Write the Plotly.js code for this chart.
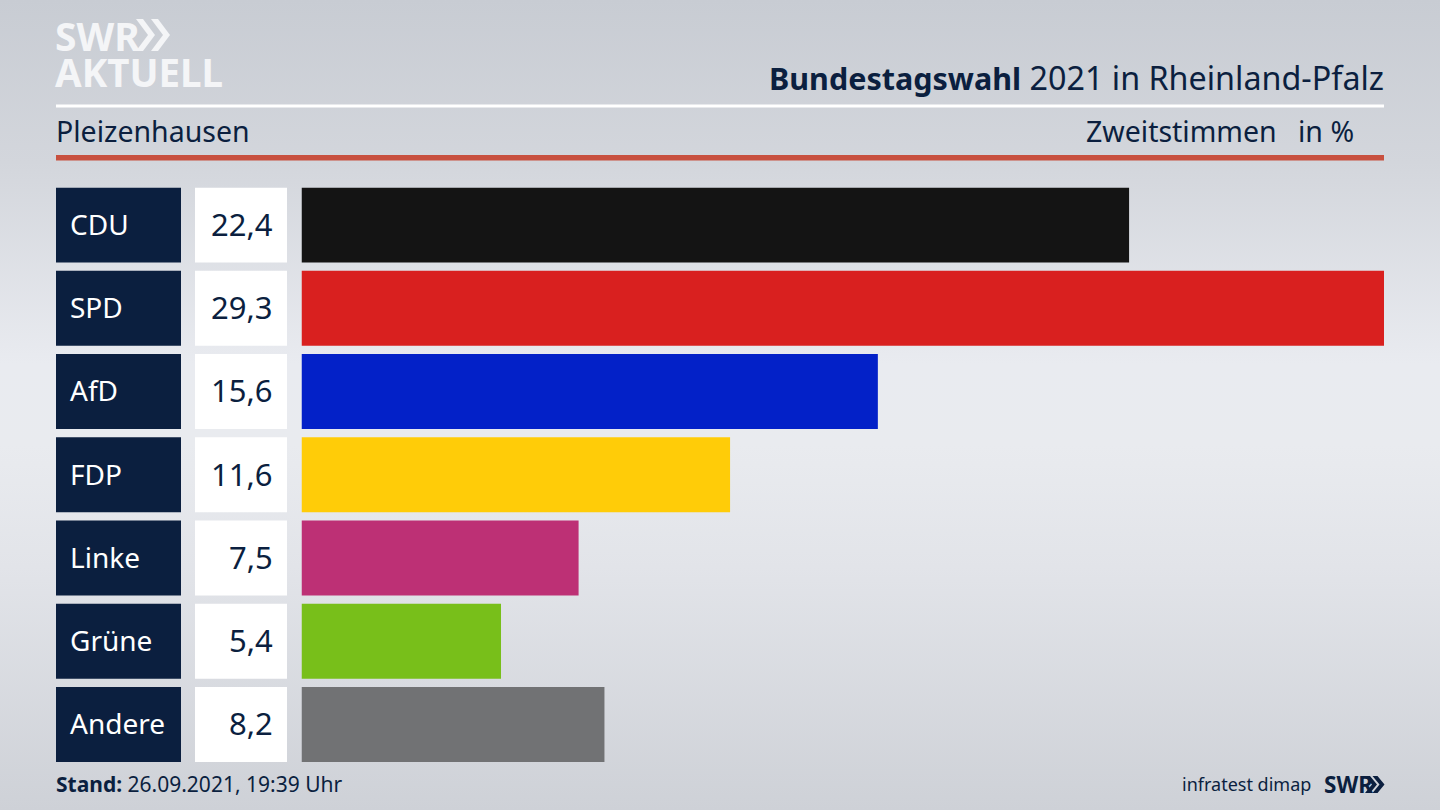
<!DOCTYPE html>
<html><head><meta charset="utf-8">
<script src="https://cdn.plot.ly/plotly-3.0.1.min.js"></script>
<style>
html,body{margin:0;padding:0;width:1440px;height:810px;overflow:hidden;
background:linear-gradient(180deg,#c8ccd3 0%,#d3d6dc 20%,#e9ebf0 45%,#e9ebef 55%,#e2e4e9 70%,#ced1d7 100%);}
#c{width:1440px;height:810px}
</style></head><body><div id="c"></div>
<script>
const parties=["CDU","SPD","AfD","FDP","Linke","Grüne","Andere"];
const shares=[22.4,29.3,15.6,11.6,7.5,5.4,8.2];
const shareLabels=["22,4","29,3","15,6","11,6","7,5","5,4","8,2"];
const partyColors=["#141414","#d9201f","#0321c8","#ffcc08","#bd3075","#78bf1a","#717274"];
const title1="Bundestagswahl", title2=" 2021 in Rheinland-Pfalz";
const place="Pleizenhausen", kind="Zweitstimmen", unit="in %";
const stand="Stand:", standText=" 26.09.2021, 19:39 Uhr", source="infratest dimap";

const W=1440,H=810,NAVY="#0b1f3f",FONT='"Noto Sans","Open Sans",sans-serif';
const px=x=>x/W, py=y=>1-y/H;
const shapes=[],ann=[];
function rect(x0,y0,x1,y1,c){shapes.push({type:"rect",xref:"paper",yref:"paper",x0:px(x0),x1:px(x1),y0:py(y0),y1:py(y1),fillcolor:c,line:{width:0},layer:"below"});}
function text(x,y,t,size,color,anchor){ann.push({xref:"paper",yref:"paper",x:px(x),y:py(y),text:t,showarrow:false,xanchor:anchor||"left",yanchor:"middle",align:"left",font:{family:FONT,size:size,color:color||NAVY}});}
function poly(pts,c){shapes.push({type:"path",xref:"paper",yref:"paper",path:"M"+pts.map(p=>px(p[0])+","+py(p[1])).join("L")+"Z",fillcolor:c,line:{width:0}});}
function chev(x,y0,y1,w,t,c){const m=(y0+y1)/2;poly([[x,y0],[x+t,y0],[x+t+w,m],[x+t,y1],[x,y1],[x+w,m]],c);}

rect(56,104.5,1384,107.5,"#ffffff");
rect(56,155,1384,160.5,"#c8503f");
parties.forEach((p,i)=>{
  shapes.push({type:"rect",xref:"paper",yref:"y",x0:px(56),x1:px(181),y0:i-0.45,y1:i+0.45,fillcolor:NAVY,line:{width:0},layer:"below"});
  shapes.push({type:"rect",xref:"paper",yref:"y",x0:px(195),x1:px(287),y0:i-0.45,y1:i+0.45,fillcolor:"#ffffff",line:{width:0},layer:"below"});
  ann.push({xref:"paper",yref:"y",x:px(68),y:i-0.015,text:p,showarrow:false,xanchor:"left",yanchor:"middle",font:{family:FONT,size:28,color:"#ffffff"}});
  ann.push({xref:"paper",yref:"y",x:px(275),y:i-0.015,text:shareLabels[i],showarrow:false,xanchor:"right",yanchor:"middle",font:{family:FONT,size:31,color:NAVY}});
});
text(1386,77,"<b><span style=\"font-size:30.5px\">"+title1+"</span></b><span style=\"font-size:32.3px\">"+title2+"</span>",32,NAVY,"right");
text(54,131,place,28.5,NAVY);
text(1279,131,kind,28.5,NAVY,"right");
text(1356,131,unit,28.5,NAVY,"right");
text(54,784,"<b>"+stand+"</b>"+standText,21,NAVY);
text(1313,784,source,18,NAVY,"right");
text(1322,784,"<b>SWR</b>",22.5,NAVY,"left");
chev(1365,776,793,7,5,NAVY);chev(1372.5,776,793,7,5,NAVY);
text(53,53,"<b><span style=\"font-size:39px\">SWR</span><br><span style=\"font-size:38.5px\">AKTUELL</span></b>",27.7,"#f4f5f7");
chev(136,19,51,12,7,"#f4f5f7");chev(151,19,51,12,7,"#f4f5f7");

Plotly.newPlot("c",[{type:"bar",orientation:"h",y:parties,x:shares,width:0.9,
  marker:{color:partyColors,line:{width:0}},hoverinfo:"skip"}],
{width:W,height:H,margin:{l:0,r:0,t:0,b:0},paper_bgcolor:"rgba(0,0,0,0)",plot_bgcolor:"rgba(0,0,0,0)",showlegend:false,
 xaxis:{domain:[px(301.5),px(1384)],range:[0,29.3],visible:false,fixedrange:true},
 yaxis:{domain:[py(762),py(187.5)],type:"category",categoryorder:"array",categoryarray:parties,range:[6.45,-0.45],visible:false,fixedrange:true},
 shapes:shapes,annotations:ann},{staticPlot:true,displayModeBar:false});
</script></body></html>
